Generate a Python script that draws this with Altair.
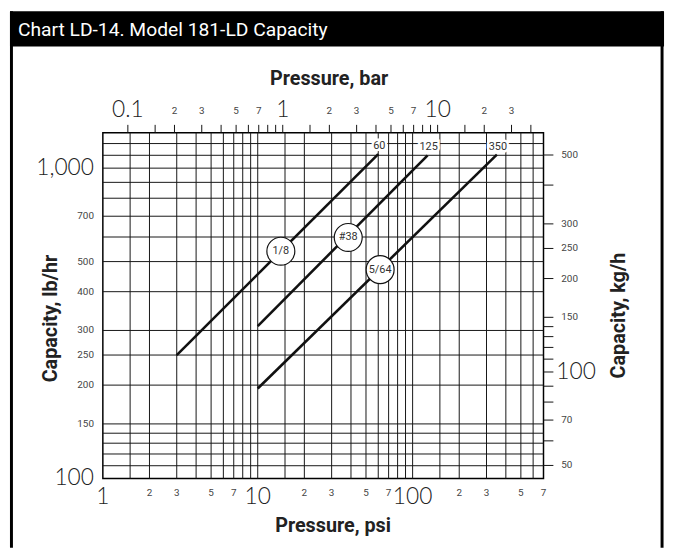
import altair as alt
import pandas as pd

# ---------------- data ----------------
series_names = ["1/8", "#38", "5/64"]
end_labels = ["60", "125", "350"]
psi_start = [3, 10, 10]
psi_end = [60, 125, 350]
cap_start = [250, 310, 195]
cap_end = [1110, 1100, 1105]
badge_psi = [14.1, 38.4, 61.7]
badge_cap = [540, 598, 471]

psi_grid = [1.5, 2, 3, 4, 5, 6, 7, 8, 9, 10, 15, 20, 30, 40, 50, 60, 70, 80, 90,
            100, 150, 200, 300, 400, 500, 600]
cap_grid = [110, 120, 130, 140, 150, 200, 250, 300, 400, 500, 600, 700, 800, 900,
            1000, 1100, 1200]

bar_ticks = [0.1, 0.15, 0.2, 0.3, 0.4, 0.5, 0.6, 0.7, 0.8, 0.9, 1, 1.5, 2, 3, 4, 5,
             6, 7, 8, 9, 10, 15, 20, 30, 40]
bar_big = [0.1, 1, 10]
bar_big_text = ["0.1", "1", "10"]
bar_small = [0.2, 0.3, 0.5, 0.7, 2, 3, 5, 7, 20, 30]
bar_small_text = ["2", "3", "5", "7", "2", "3", "5", "7", "2", "3"]

psi_big = [1, 10, 100]
psi_big_text = ["1", "10", "100"]
psi_small = [2, 3, 5, 7, 20, 30, 50, 70, 200, 300, 500, 700]
psi_small_text = ["2", "3", "5", "7", "2", "3", "5", "7", "2", "3", "5", "7"]

cap_big = [1000, 100]
cap_big_text = ["1,000", "100"]
cap_small = [700, 500, 400, 300, 250, 200, 150]

kg_ticks = [500, 400, 300, 250, 200, 150, 140, 130, 120, 110, 100, 90, 80, 70, 60, 50]
kg_small = [500, 300, 250, 200, 150, 70, 50]
kg_big = [100]

PSI_PER_BAR = 14.5038
KG_PER_LB = 0.45359237

# ---------------- tables ----------------
lines_df = pd.DataFrame({
    "series": series_names * 2,
    "psi": psi_start + psi_end,
    "cap": cap_start + cap_end,
})
ends_df = pd.DataFrame({"psi": psi_end, "cap": cap_end, "label": end_labels})
badge_df = pd.DataFrame({"psi": badge_psi, "cap": badge_cap, "label": series_names})
one = pd.DataFrame({"k": [0]})

FONT = "Liberation Sans Narrow, Roboto, Liberation Sans, sans-serif"
BIG_FONT = "Lato, Open Sans, Liberation Sans, sans-serif"
W, H = 446, 350

xs = alt.Scale(type="log", domain=[1, 700])
ys = alt.Scale(type="log", domain=[100, 1300])
X = lambda f: alt.X(f, type="quantitative", scale=xs, axis=None)
Y = lambda f: alt.Y(f, type="quantitative", scale=ys, axis=None)

# gridlines
vgrid = alt.Chart(pd.DataFrame({"psi": psi_grid})).mark_rule(
    color="#151515", strokeWidth=1).encode(x=X("psi"))
hgrid = alt.Chart(pd.DataFrame({"cap": cap_grid})).mark_rule(
    color="#151515", strokeWidth=1).encode(y=Y("cap"))

# series lines
lines = alt.Chart(lines_df).mark_line(color="#111", strokeWidth=2.6).encode(
    x=X("psi"), y=Y("cap"), detail="series:N")

# end labels with white halo
ends_halo = alt.Chart(ends_df).mark_text(
    font=FONT, fontSize=11, dy=-8, dx=1, stroke="white", strokeWidth=5,
    color="white").encode(x=X("psi"), y=Y("cap"), text="label:N")
ends_txt = alt.Chart(ends_df).mark_text(
    font=FONT, fontSize=11, dy=-8, dx=1, color="#333").encode(
    x=X("psi"), y=Y("cap"), text="label:N")

# badges
badges = alt.Chart(badge_df).mark_point(
    shape="circle", size=800, filled=True, fill="white", stroke="#111",
    strokeWidth=1.2, opacity=1).encode(x=X("psi"), y=Y("cap"))
badge_txt = alt.Chart(badge_df).mark_text(
    font=FONT, fontSize=11, color="#333").encode(
    x=X("psi"), y=Y("cap"), text="label:N")

# bottom axis labels
bot_big = alt.Chart(pd.DataFrame({"psi": psi_big, "t": psi_big_text})).mark_text(
    font=BIG_FONT, fontSize=23, fontWeight=300, color="#222",
    baseline="alphabetic").encode(
    x=X("psi"), y=alt.value(376), text="t:N")
bot_small = alt.Chart(pd.DataFrame({"psi": psi_small, "t": psi_small_text})).mark_text(
    font=FONT, fontSize=10, color="#444", baseline="alphabetic").encode(
    x=X("psi"), y=alt.value(367.5), text="t:N")

# top axis (bar)
top_ticks = alt.Chart(pd.DataFrame({"bar": bar_ticks})).transform_calculate(
    psi=f"datum.bar * {PSI_PER_BAR}").mark_rule(color="#111", strokeWidth=1).encode(
    x=X("psi"), y=alt.value(-8), y2=alt.value(0))
top_big = alt.Chart(pd.DataFrame({"bar": bar_big, "t": bar_big_text})).transform_calculate(
    psi=f"datum.bar * {PSI_PER_BAR}").mark_text(
    font=BIG_FONT, fontSize=23, fontWeight=300, color="#222",
    baseline="alphabetic").encode(
    x=X("psi"), y=alt.value(-15.5), text="t:N")
top_small = alt.Chart(pd.DataFrame({"bar": bar_small, "t": bar_small_text})).transform_calculate(
    psi=f"datum.bar * {PSI_PER_BAR}").mark_text(
    font=FONT, fontSize=10, color="#444", baseline="alphabetic").encode(
    x=X("psi"), y=alt.value(-19.5), text="t:N")

# left axis labels
left_big = alt.Chart(pd.DataFrame({"cap": cap_big, "t": cap_big_text})).mark_text(
    font=BIG_FONT, fontSize=23, fontWeight=300, color="#222", align="right",
    baseline="middle").encode(
    x=alt.value(-9), y=Y("cap"), text="t:N")
left_small = alt.Chart(pd.DataFrame({"cap": cap_small})).mark_text(
    font=FONT, fontSize=10, color="#444", align="right", baseline="middle").encode(
    x=alt.value(-9), y=Y("cap"), text="cap:Q")

# right axis (kg/h)
kg_calc = f"datum.kg / {KG_PER_LB}"
right_ticks = alt.Chart(pd.DataFrame({"kg": kg_ticks})).transform_calculate(
    lb=kg_calc).mark_rule(color="#111", strokeWidth=1).encode(
    x=alt.value(W), x2=alt.value(W + 10), y=Y("lb"))
right_small = alt.Chart(pd.DataFrame({"kg": kg_small})).transform_calculate(
    lb=kg_calc).mark_text(font=FONT, fontSize=10, color="#444", align="left",
                          baseline="middle").encode(
    x=alt.value(W + 18), y=Y("lb"), text="kg:Q")
right_big = alt.Chart(pd.DataFrame({"kg": kg_big})).transform_calculate(
    lb=kg_calc).mark_text(font=BIG_FONT, fontSize=23, fontWeight=300, color="#222",
                          align="left", baseline="middle").encode(
    x=alt.value(W + 13), y=Y("lb"), text="kg:Q")

# frame and titles
title_bar = alt.Chart(one).mark_rect(color="black").encode(
    x=alt.value(-94), x2=alt.value(568), y=alt.value(-123), y2=alt.value(-87.4))
left_border = alt.Chart(one).mark_rule(color="black", strokeWidth=3).encode(
    x=alt.value(-92.5), y=alt.value(-123), y2=alt.value(420))
right_border = alt.Chart(one).mark_rule(color="black", strokeWidth=3).encode(
    x=alt.value(566), y=alt.value(-123), y2=alt.value(420))

title_txt = alt.Chart(one).mark_text(
    font="Liberation Sans Narrow, Roboto, sans-serif", fontSize=19.5, color="white",
    fontWeight=400, align="left", baseline="alphabetic").encode(
    x=alt.value(-86), y=alt.value(-97.5),
    text=alt.value("Chart LD-14. Model 181-LD Capacity"))

def axis_title(txt, x, y, angle=0):
    return alt.Chart(one).mark_text(
        font=FONT, fontSize=20, fontWeight="bold", color="#222",
        align="center", baseline="middle", angle=angle).encode(
        x=alt.value(x), y=alt.value(y), text=alt.value(txt))

t_bar = axis_title("Pressure, bar", 229, -54)
t_psi = axis_title("Pressure, psi", 233, 398)
t_lb = axis_title("Capacity, lb/hr", -52, 188, 270)
t_kg = axis_title("Capacity, kg/h", 522.5, 185, 270)

chart = alt.layer(
    title_bar, left_border, right_border, title_txt,
    vgrid, hgrid, lines, ends_halo, ends_txt, badges, badge_txt,
    bot_big, bot_small, top_ticks, top_big, top_small,
    left_big, left_small, right_ticks, right_small, right_big,
    t_bar, t_psi, t_lb, t_kg,
).properties(
    width=W, height=H,
    padding={"left": 96, "top": 123, "right": 125, "bottom": 68},
    autosize=alt.AutoSizeParams(type="none"),
    background="white",
).configure_view(stroke="black", strokeWidth=1.5)

chart.save("out.html", embed_options={"renderer": "svg", "actions": False})
